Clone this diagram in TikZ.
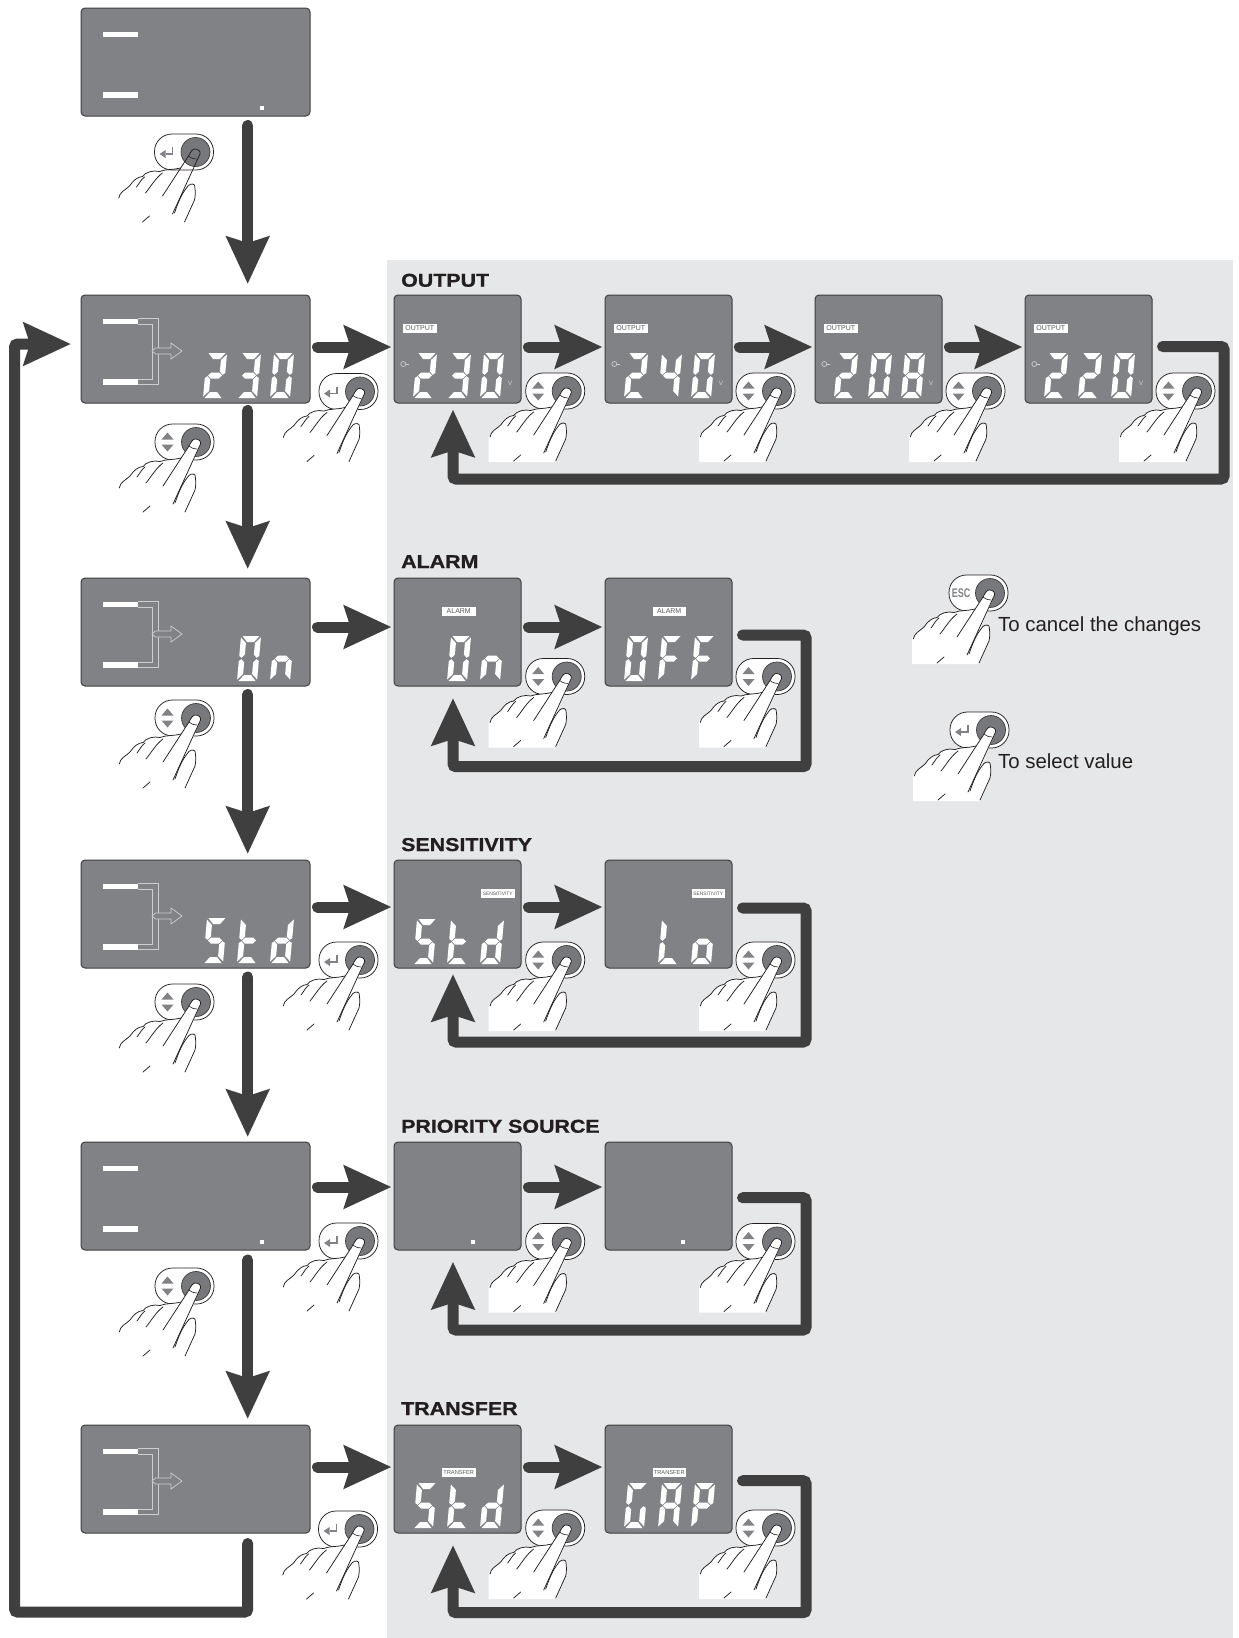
\documentclass[tikz,border=0pt]{standalone}
\usepackage{fontspec}
\usetikzlibrary{arrows.meta}
\setmainfont{Liberation Sans}
\newfontfamily\headfont[FakeStretch=1.15,BoldFeatures={FakeStretch=1.15,FakeBold=1}]{Liberation Sans}
\definecolor{panelcol}{HTML}{E6E7E8}
\definecolor{lcdcol}{HTML}{808285}
\definecolor{btncol}{HTML}{77787B}
\definecolor{flowcol}{HTML}{3F3F3F}
\definecolor{inkcol}{HTML}{231F20}
\definecolor{thincol}{HTML}{CDCED0}
\definecolor{tagtext}{HTML}{58595B}
\tikzset{
  x=1pt,y=-1pt,
  lcdbig/.style={draw=flowcol,fill=lcdcol,line width=1pt,rounded corners=4pt,minimum width=229pt,minimum height=108pt,anchor=north west,inner sep=0,outer sep=0},
  lcdsmall/.style={lcdbig,minimum width=127pt},
  flow/.style={line width=11pt,color=flowcol,line cap=round,rounded corners=3pt},
  arr/.style={-{Stealth[length=47pt,width=42pt,inset=6pt]}},
  tag/.style={fill=white,text=tagtext,inner sep=0,outer sep=0,minimum width=33.5pt,minimum height=9pt,anchor=north west,font=\fontsize{7}{7}\selectfont},
  title/.style={anchor=base west,inner sep=0,font=\headfont\bfseries\fontsize{18.6}{20}\selectfont,text=inkcol},
  legend/.style={anchor=base west,inner sep=0,font=\fontsize{20.4}{22}\selectfont,text=inkcol},
  ink/.style={draw=inkcol,line width=0.75pt,line cap=round,line join=round},
  thin line/.style={draw=thincol,line width=0.7pt},
}
% seven-segment pieces
\def\sega{\fill[white] (1.5,45)--(18.5,45)--(13.5,39)--(6.5,39)--cycle;}
\def\segd{\fill[white] (1.5,0)--(18.5,0)--(13.5,6)--(6.5,6)--cycle;}
\def\segf{\fill[white] (0,43.5)--(5.5,38)--(5.5,26.5)--(2.5,23.2)--(0,25)--cycle;}
\def\sege{\fill[white] (0,1.5)--(5.5,7)--(5.5,18.5)--(2.5,21.8)--(0,20)--cycle;}
\def\segb{\fill[white] (20,43.5)--(14.5,38)--(14.5,26.5)--(17.5,23.2)--(20,25)--cycle;}
\def\segc{\fill[white] (20,1.5)--(14.5,7)--(14.5,18.5)--(17.5,21.8)--(20,20)--cycle;}
\def\segg{\fill[white] (3,22.5)--(6,25.5)--(14,25.5)--(17,22.5)--(14,19.5)--(6,19.5)--cycle;}
\expandafter\def\csname lcdset0\endcsname{a,b,c,d,e,f}
\expandafter\def\csname lcdset2\endcsname{a,b,g,e,d}
\expandafter\def\csname lcdset3\endcsname{a,b,g,c,d}
\expandafter\def\csname lcdset4\endcsname{f,g,b,c}
\expandafter\def\csname lcdset8\endcsname{a,b,c,d,e,f,g}
\expandafter\def\csname lcdsetS\endcsname{a,f,g,c,d}
\expandafter\def\csname lcdsett\endcsname{f,g,e,d}
\expandafter\def\csname lcdsetd\endcsname{b,c,d,e,g}
\expandafter\def\csname lcdsetn\endcsname{e,g,c}
\expandafter\def\csname lcdsetF\endcsname{a,f,g,e}
\expandafter\def\csname lcdsetL\endcsname{f,e,d}
\expandafter\def\csname lcdseto\endcsname{g,c,d,e}
\expandafter\def\csname lcdsetG\endcsname{a,f,e,d,c}
\expandafter\def\csname lcdsetA\endcsname{a,b,c,e,f,g}
\expandafter\def\csname lcdsetP\endcsname{a,b,e,f,g}
\newcommand\lcdch[3]{\begin{scope}[shift={(#1,#2)},xslant=0.09,x=1pt,y=1pt]
  \expandafter\let\expandafter\lcdlist\csname lcdset#3\endcsname
  \foreach \s in \lcdlist {\csname seg\s\endcsname}
\end{scope}}
\newcommand\lcdthree[5]{\lcdch{#1+0}{#2}{#3}\lcdch{#1+34}{#2}{#4}\lcdch{#1+67}{#2}{#5}}
\newcommand\lcdtwo[4]{\lcdch{#1+34}{#2}{#3}\lcdch{#1+67}{#2}{#4}}
\newcommand\bars[2]{\fill[white] (#1+22,#2+23.5) rectangle (#1+57,#2+29);\fill[white] (#1+22,#2+84) rectangle (#1+57,#2+89.5);}
\newcommand\barlines[2]{\begin{scope}[shift={(#1,#2)}]
  \draw[thin line] (57,23.5)--(77,23.5)--(77,89.5)--(57,89.5);
  \draw[thin line] (57,29)--(71,29)--(71,84)--(57,84);
  \draw[thin line,fill=lcdcol] (71,56)--(74.5,53)--(90,53)--(90,48)--(101,56)--(90,64)--(90,59)--(74.5,59)--cycle;
\end{scope}}
\newcommand\dotmark[2]{\fill[white] (#1-2,#2-2) rectangle (#1+2,#2+2);}
\newcommand\iconupdown{\fill[lcdcol] (-34.5,-2.5)--(-22.5,-2.5)--(-28.5,-9.5)--cycle;\fill[lcdcol] (-34.5,2.5)--(-22.5,2.5)--(-28.5,9.5)--cycle;}
\newcommand\iconenter{\draw[lcdcol,line width=1.6pt] (-23,-5)--(-23,2)--(-30,2);\fill[lcdcol] (-36,2)--(-30,-2)--(-30,6)--cycle;}
\newcommand\iconesc{\node[inner sep=0,text=lcdcol,font=\bfseries\fontsize{12.5}{12.5}\selectfont] (esclabel) at (-29,0) {\scalebox{0.72}[1]{ESC}};}
\newcommand\handpill[1]{%
  \draw[ink,fill=white,rounded corners=17.5pt] (-41,-18) rectangle (18,18);
  \draw[draw=flowcol,line width=0.7pt,fill=btncol] (0,0) circle (14.5);
  #1}
\newcommand\handlines{%
  \draw[ink] (-76.7,46) .. controls (-76,40) and (-70,38) .. (-66,34) .. controls (-62,28) and (-58,25) .. (-53,24.5) .. controls (-50,20) and (-42,18) .. (-36,19.5) .. controls (-30,17) and (-22,18) .. (-15,16);
  \draw[ink] (-59,35) .. controls (-56,31) and (-54,27) .. (-51,25);
  \draw[ink] (-50,41) .. controls (-45,35) and (-40,26) .. (-33,21);
  \draw[ink] (-33,44) -- (-7,4) .. controls (-5,0) and (-3,-3) .. (-1,-3) .. controls (3,-3) and (5,-1) .. (4.5,2) -- (-23,62);
  \draw[ink,line width=0.6pt] (-7,4) .. controls (-4,6.5) and (-1,7) .. (1,7);
  \draw[ink] (-21,61) .. controls (-18,52) and (-14,42) .. (-9,36) .. controls (-7,32) and (-3,31) .. (-1,33) .. controls (0,38) and (0,44) .. (-1,48) -- (-11,70);
  \draw[ink] (-53,70) -- (-46,64);}
\newcommand\hand[3]{\begin{scope}[shift={(#1,#2)}]
  \handpill{#3}
  \fill[white] (-78,71) -- (-78,46) .. controls (-76,40) and (-70,38) .. (-66,34) .. controls (-62,28) and (-58,25) .. (-53,24.5) .. controls (-50,20) and (-42,18) .. (-36,19.5) .. controls (-30,17) and (-22,18) .. (-15,16) -- (-7,4) .. controls (-5,0) and (-3,-3) .. (-1,-3) .. controls (3,-3) and (5,-1) .. (4.5,2) -- (-9,34) -- (-1,33) -- (0,44) -- (-1,48) -- (-11,71) -- cycle;
  \handlines
\end{scope}}
\newcommand\handhollow[3]{\begin{scope}[shift={(#1,#2)}]
  \handpill{#3}
  \handlines
\end{scope}}
\newcommand\outputextras[2]{\begin{scope}[shift={(#1,#2)}]
  \draw[thin line] (9.3,69) circle (2.5);
  \draw[thin line] (11.8,69)--(15,69);
  \node[inner sep=0,text=thincol,font=\fontsize{6.5}{7}\selectfont] at (116,88) {V};
\end{scope}}
\begin{document}
\begin{tikzpicture}
\useasboundingbox (0,0) rectangle (1239,1638);
\fill[white] (0,0) rectangle (1239,1638);
\fill[panelcol] (387,260) rectangle (1233,1638);
\node[title] (t1) at (401,286.7) {OUTPUT};
\node[title] (t2) at (401,568) {ALARM};
\node[title] (t3) at (401,851) {SENSITIVITY};
\node[title] (t4) at (401,1132.7) {PRIORITY SOURCE};
\node[title] (t5) at (401,1415) {TRANSFER};
\node[lcdbig] (m1) at (81,8) {};
\node[lcdbig] (m2) at (81,295) {};
\node[lcdbig] (m3) at (81,578) {};
\node[lcdbig] (m4) at (81,860) {};
\node[lcdbig] (m5) at (81,1142) {};
\node[lcdbig] (m6) at (81,1425) {};
\node[lcdsmall] (a1) at (394,295) {};
\node[lcdsmall] (a2) at (605,295) {};
\node[lcdsmall] (a3) at (815,295) {};
\node[lcdsmall] (a4) at (1025,295) {};
\node[lcdsmall] (b1) at (394,578) {};
\node[lcdsmall] (b2) at (605,578) {};
\node[lcdsmall] (c1) at (394,860) {};
\node[lcdsmall] (c2) at (605,860) {};
\node[lcdsmall] (d1) at (394,1142) {};
\node[lcdsmall] (d2) at (605,1142) {};
\node[lcdsmall] (e1) at (394,1425) {};
\node[lcdsmall] (e2) at (605,1425) {};
\bars{81}{8}\dotmark{262}{107.5}
\bars{81}{295}\barlines{81}{295}\lcdthree{203}{398}{2}{3}{0}
\bars{81}{578}\barlines{81}{578}\lcdtwo{203}{681}{0}{n}
\bars{81}{860}\barlines{81}{860}\lcdthree{203}{963}{S}{t}{d}
\bars{81}{1142}\dotmark{262}{1242}
\bars{81}{1425}\barlines{81}{1425}
\node[tag] (la1) at (403,324) {OUTPUT};\outputextras{394}{295}\lcdthree{413}{398}{2}{3}{0}
\node[tag] (la2) at (614,324) {OUTPUT};\outputextras{605}{295}\lcdthree{624}{398}{2}{4}{0}
\node[tag] (la3) at (824,324) {OUTPUT};\outputextras{815}{295}\lcdthree{834}{398}{2}{0}{8}
\node[tag] (la4) at (1034,324) {OUTPUT};\outputextras{1025}{295}\lcdthree{1044}{398}{2}{2}{0}
\node[tag] (lb1) at (442,607) {ALARM};\lcdtwo{413}{681}{0}{n}
\node[tag] (lb2) at (652.5,607) {ALARM};\lcdthree{624}{681}{0}{F}{F}
\node[tag,font=\fontsize{4.9}{5}\selectfont] (lc1) at (481,889) {SENSITIVITY};\lcdthree{413}{964}{S}{t}{d}
\node[tag,font=\fontsize{4.9}{5}\selectfont] (lc2) at (691.5,889) {SENSITIVITY};\lcdtwo{624}{964}{L}{o}
\dotmark{473}{1242}\dotmark{683}{1242}
\node[tag,font=\fontsize{5.7}{6}\selectfont] (le1) at (442,1468) {TRANSFER};\lcdthree{413}{1528}{S}{t}{d}
\node[tag,font=\fontsize{5.7}{6}\selectfont] (le2) at (652.5,1468) {TRANSFER};\lcdthree{624}{1528}{G}{A}{P}
\handhollow{195.5}{152}{\iconenter}
\hand{196}{442}{\iconupdown}\hand{360}{391.5}{\iconenter}
\hand{196}{718}{\iconupdown}
\hand{196}{1002}{\iconupdown}\hand{360}{960}{\iconenter}
\hand{196}{1286}{\iconupdown}\hand{360}{1241}{\iconenter}
\hand{359.5}{1529}{\iconenter}
\hand{566.7}{391}{\iconupdown}\hand{777}{391}{\iconupdown}\hand{987}{391}{\iconupdown}\hand{1197}{391}{\iconupdown}
\hand{566.7}{676.5}{\iconupdown}\hand{777}{676.5}{\iconupdown}
\hand{566.7}{960}{\iconupdown}\hand{777}{960}{\iconupdown}
\hand{566.7}{1241.5}{\iconupdown}\hand{777}{1241.5}{\iconupdown}
\hand{566.7}{1528}{\iconupdown}\hand{777}{1528}{\iconupdown}
\hand{990}{593}{\iconesc}
\hand{991}{730}{\iconenter}
\node[legend] (lg1) at (998,631) {To cancel the changes};
\node[legend] (lg2) at (998,768) {To select value};
\foreach \p/\q/\u/\v in {m1/m2/9.5/11,m2/m3/7.5/9,m3/m4/8.5/6,m4/m5/9/5,m5/m6/10/6}{
  \draw[flow,arr] ([xshift=-62.3pt,yshift=-\u pt]\p.south east) -- ([xshift=-62.3pt,yshift=\v pt]\q.north east);
}
\coordinate (l1) at (14.6,1612);
\draw[flow,arr] ([xshift=-62.3pt,yshift=-10.5pt]m6.south east) |- (l1) |- ([xshift=-10pt,yshift=5pt]m2.west);
\foreach \p/\q/\s in {m2/a1/2,a1/a2/2,a2/a3/2,a3/a4/2,m3/b1/5,b1/b2/5,m4/c1/7,c1/c2/7,m5/d1/9,d1/d2/9,m6/e1/12,e1/e2/12}{
  \draw[flow,arr] ([xshift=7.5pt,yshift=\s pt]\p.east) -- ([xshift=-2.5pt,yshift=\s pt]\q.west);
}
\coordinate (o1) at (1224,479);
\draw[flow,arr] ([xshift=10.5pt,yshift=2.5pt]a4.east) -| (o1) -| ([xshift=59pt,yshift=-6.5pt]a1.south west);
\coordinate (o2) at (806,766.7);
\draw[flow,arr] ([xshift=10.5pt,yshift=-3pt]b2.east) -| (o2) -| ([xshift=59pt,yshift=-12pt]b1.south west);
\coordinate (o3) at (806,1042);
\draw[flow,arr] ([xshift=10.5pt,yshift=6pt]c2.east) -| (o3) -| ([xshift=59pt,yshift=-6pt]c1.south west);
\coordinate (o4) at (806,1330);
\draw[flow,arr] ([xshift=10.5pt,yshift=-1.7pt]d2.east) -| (o4) -| ([xshift=59pt,yshift=-11.7pt]d1.south west);
\coordinate (o5) at (806,1612.7);
\draw[flow,arr] ([xshift=10.5pt,yshift=-1.7pt]e2.east) -| (o5) -| ([xshift=59pt,yshift=-12pt]e1.south west);
\end{tikzpicture}
\end{document}
